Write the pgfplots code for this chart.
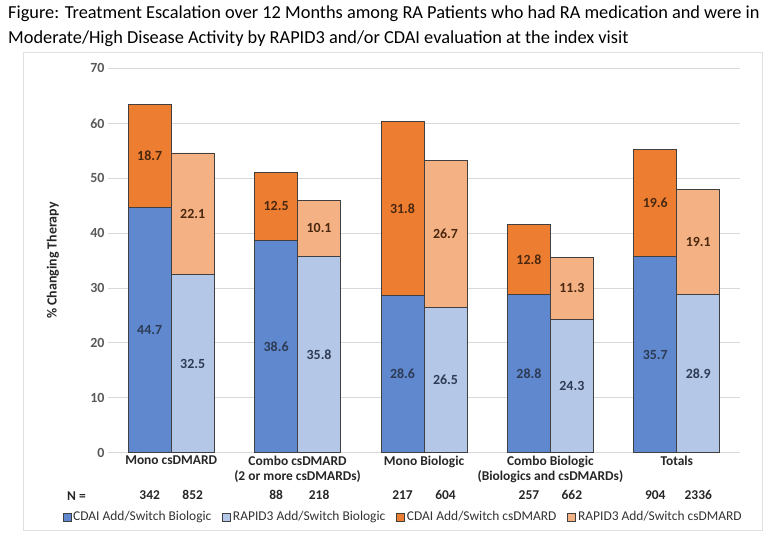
\documentclass[border=0pt]{standalone}
\usepackage{pgfplots}
\pgfplotsset{compat=1.18}
\usepackage{fontspec}
\setmainfont{Carlito}

\definecolor{cdaibio}{HTML}{5F88CE}
\definecolor{rapidbio}{HTML}{B4C7E7}
\definecolor{cdaicsd}{HTML}{ED7D31}
\definecolor{rapidcsd}{HTML}{F4B183}
\definecolor{tickgray}{HTML}{595959}
\definecolor{bluetext}{HTML}{2E3B55}
\definecolor{orangetext}{HTML}{4A2810}
\definecolor{barline}{HTML}{404040}

\pgfplotsset{
  base/.style={
    at={(108bp,86.3bp)}, anchor=south west,
    scale only axis, width=632bp, height=384.3bp,
    xmin=-0.5, xmax=4.5, ymin=0, ymax=70,
    ybar stacked, bar width=0.34,
    clip=false,
    /pgf/number format/assume math mode=true,
    /pgf/number format/.cd, fixed, fixed zerofill, precision=1, /pgfplots/.cd,
    nodes near coords,
    every node near coord/.append style={anchor=center,
      font=\fontsize{14}{16}\selectfont\bfseries},
  },
  seg/.style={draw=barline, line width=0.8bp, fill=#1},
}

\begin{document}
\begin{tikzpicture}
\path (0bp,0bp) rectangle (765bp,539bp);
\draw[gray!25, line width=0.8bp] (23bp,9bp) rectangle (762bp,487bp);
\node[anchor=north west, align=left, inner sep=0,
  font=\fontsize{18.4}{24.5}\selectfont] at (8bp,533bp)
  {Figure: Treatment Escalation over 12 Months among RA Patients who had RA medication and were in\\
   Moderate/High Disease Activity by RAPID3 and/or CDAI evaluation at the index visit};

% CDAI bars, with the axis furniture
\begin{axis}[base, bar shift=-0.17,
  axis line style={draw=none}, tick style={draw=none},
  ymajorgrids, grid style={color=gray!30, line width=0.8bp},
  ytick={0,10,...,70},
  yticklabel style={font=\fontsize{14}{16}\selectfont\bfseries, text=tickgray,
    /pgf/number format/.cd, fixed, precision=0},
  xtick={0,1,2,3,4},
  xticklabels={Mono csDMARD, {Combo csDMARD\\(2 or more csDMARDs)}, Mono Biologic,
    {Combo Biologic\\(Biologics and csDMARDs)}, Totals},
  xticklabel style={align=center, font=\fontsize{13.5}{15}\selectfont\bfseries, text=black!85},
  extra x ticks={-0.17,0.17,0.83,1.17,1.83,2.17,2.83,3.17,3.83,4.17},
  extra x tick labels={342,852,88,218,217,604,257,662,904,2336},
  extra x tick style={grid=none, xticklabel style={yshift=-34bp}},
  every axis y label/.style={at={(rel axis cs:0,0.5)}, rotate=90, anchor=center,
    yshift=55bp, font=\fontsize{14}{16}\selectfont\bfseries, text=black!85},
  ylabel={\% Changing Therapy},
]
\addplot[seg=cdaibio, every node near coord/.append style={text=bluetext}]
  coordinates {(0,44.7) (1,38.6) (2,28.6) (3,28.8) (4,35.7)};
\addplot[seg=cdaicsd, every node near coord/.append style={text=orangetext}]
  coordinates {(0,18.7) (1,12.5) (2,31.8) (3,12.8) (4,19.6)};
\node[anchor=center, font=\fontsize{13.5}{15}\selectfont\bfseries, text=black!85]
  at (axis cs:-0.75,0) [yshift=-43bp] {N =};
\end{axis}

% RAPID3 bars and the legend
\begin{axis}[base, bar shift=0.17, hide axis,
  legend style={at={(0.467,-0.167)}, anchor=center, draw=none, fill=none,
    legend columns=-1, font=\fontsize{13.5}{15}\selectfont, text=black!80,
    /tikz/every even column/.append style={column sep=9bp}},
  legend image code/.code={\draw[#1] (0bp,-4bp) rectangle (8bp,4bp);},
]
\addlegendimage{fill=cdaibio, draw=barline, line width=0.6bp}
\addlegendimage{fill=rapidbio, draw=barline, line width=0.6bp}
\addlegendimage{fill=cdaicsd, draw=barline, line width=0.6bp}
\addlegendimage{fill=rapidcsd, draw=barline, line width=0.6bp}
\addplot[seg=rapidbio, forget plot, every node near coord/.append style={text=bluetext}]
  coordinates {(0,32.5) (1,35.8) (2,26.5) (3,24.3) (4,28.9)};
\addplot[seg=rapidcsd, forget plot, every node near coord/.append style={text=orangetext}]
  coordinates {(0,22.1) (1,10.1) (2,26.7) (3,11.3) (4,19.1)};
\legend{CDAI Add/Switch Biologic, RAPID3 Add/Switch Biologic,
  CDAI Add/Switch csDMARD, RAPID3 Add/Switch csDMARD}
\end{axis}
\end{tikzpicture}
\end{document}
